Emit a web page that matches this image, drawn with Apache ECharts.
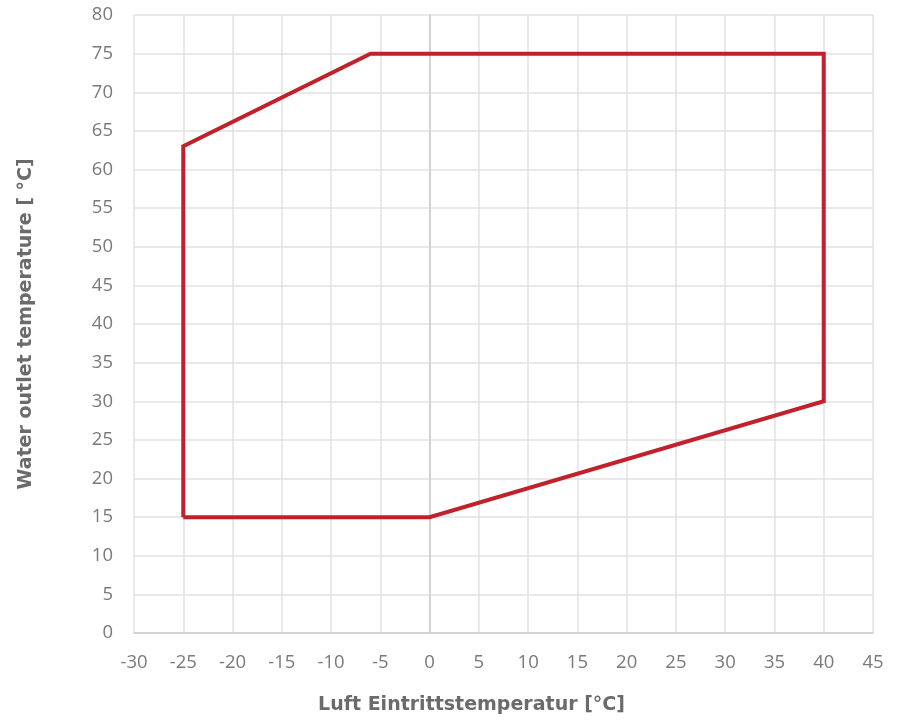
<!DOCTYPE html>
<html><head><meta charset="utf-8">
<script src="https://cdn.jsdelivr.net/npm/echarts@6/dist/echarts.min.js"></script>
<style>html,body{margin:0;padding:0;background:#fff}#c{width:898px;height:725px}</style>
</head><body><div id="c"></div>
<script>
const airTemp = [-25, -25, -6, 40, 40, 0, -25];
const waterTemp = [15, 63, 75, 75, 30, 15, 15];
const xTitle = 'Luft Eintrittstemperatur [°C]';
const yTitle = 'Water outlet temperature [ °C]';

const chart = echarts.init(document.getElementById('c'));
const font = '"Open Sans", sans-serif';
const titleFont = '"DejaVu Sans", sans-serif';
chart.setOption({
  animation: false,
  grid: {left: 134, right: 25, top: 15, bottom: 92, outerBoundsMode: 'none', containLabel: false},
  xAxis: {
    type: 'value', min: -30, max: 45, interval: 5,
    name: xTitle, nameLocation: 'middle', nameGap: 63,
    nameTextStyle: {fontFamily: titleFont, fontSize: 19, fontWeight: 'bold', color: '#6b6b6b', padding: [0, 64, 0, 0]},
    axisLine: {show: true, lineStyle: {color: '#cccccc', width: 1.5}},
    axisTick: {show: false},
    axisLabel: {fontFamily: font, fontSize: 18.5, color: '#7a7a7a', margin: 20},
    splitLine: {show: true, lineStyle: {color: '#e2e2e2', width: 1.5}}
  },
  yAxis: {
    type: 'value', min: 0, max: 80, interval: 5,
    name: yTitle, nameLocation: 'middle', nameGap: 98,
    nameTextStyle: {fontFamily: titleFont, fontSize: 19, fontWeight: 'bold', color: '#6b6b6b'},
    axisLine: {show: true, onZero: true, lineStyle: {color: '#cccccc', width: 1.5}},
    axisTick: {show: false},
    axisLabel: {fontFamily: font, fontSize: 18.5, color: '#7a7a7a', margin: 21},
    splitLine: {show: true, lineStyle: {color: '#e2e2e2', width: 1.5}}
  },
  series: [{
    type: 'line',
    data: airTemp.map((x, i) => [x, waterTemp[i]]),
    showSymbol: false,
    symbol: 'none',
    lineStyle: {color: '#c1212b', width: 4, join: 'miter'}
  }]
});
</script></body></html>
